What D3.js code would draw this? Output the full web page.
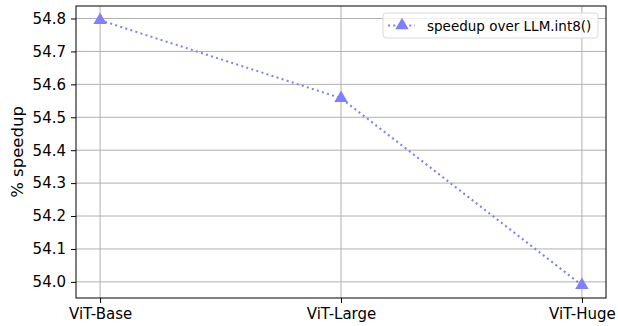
<!DOCTYPE html>
<html>
<head>
<meta charset="utf-8">
<script src="https://cdn.jsdelivr.net/npm/d3@7"></script>
<style>
  body { margin: 0; background: #fff; }
  text { font-family: "DejaVu Sans", sans-serif; }
</style>
</head>
<body>
<script>
var models = ["ViT-Base", "ViT-Large", "ViT-Huge"];
var speedup = [54.795, 54.558, 53.99];
var yTicks = [54.0, 54.1, 54.2, 54.3, 54.4, 54.5, 54.6, 54.7, 54.8];

var w = 618, h = 326;
var padL = 76, padR = 606, padT = 6, padB = 298;
var col = "#7f7fff";

var svg = d3.select("body").append("svg")
  .attr("width", w).attr("height", h);

var x = d3.scaleLinear().domain([-0.1, 2.1]).range([padL, padR]);
var y = d3.scaleLinear().domain([53.951, 54.838]).range([padB, padT]);

// grid
svg.append("g").selectAll("line").data(yTicks).enter().append("line")
  .attr("x1", padL).attr("x2", padR)
  .attr("y1", d => y(d)).attr("y2", d => y(d))
  .attr("stroke", "#b0b0b0").attr("stroke-width", 1);
svg.append("g").selectAll("line").data(models).enter().append("line")
  .attr("y1", padT).attr("y2", padB)
  .attr("x1", (d, i) => x(i)).attr("x2", (d, i) => x(i))
  .attr("stroke", "#b0b0b0").attr("stroke-width", 1);

// axes
var xAxis = d3.axisBottom(x).tickValues([0, 1, 2])
  .tickFormat(i => models[i]).tickSize(5).tickPadding(5);
var yAxis = d3.axisLeft(y).tickValues(yTicks)
  .tickFormat(d3.format(".1f")).tickSize(5).tickPadding(5);

var gx = svg.append("g").attr("transform", "translate(0," + padB + ")").call(xAxis);
var gy = svg.append("g").attr("transform", "translate(" + padL + ",0)").call(yAxis);
[gx, gy].forEach(g => {
  g.select(".domain").remove();
  g.selectAll("text").attr("font-size", 15).attr("fill", "#000")
    .style("font-family", "DejaVu Sans");
  g.selectAll("line").attr("stroke", "#000").attr("stroke-width", 1);
});

svg.append("rect")
  .attr("x", padL).attr("y", padT)
  .attr("width", padR - padL).attr("height", padB - padT)
  .attr("fill", "none").attr("stroke", "#000").attr("stroke-width", 1);

// y label
svg.append("text")
  .attr("transform", "translate(23," + ((padT + padB) / 2) + ") rotate(-90)")
  .attr("text-anchor", "middle")
  .attr("font-size", 16.5)
  .text("% speedup");

// line
var line = d3.line().x((d, i) => x(i)).y(d => y(d));
svg.append("path").datum(speedup)
  .attr("d", line)
  .attr("fill", "none").attr("stroke", col)
  .attr("stroke-width", 2).attr("stroke-dasharray", "2,3.3");

var tri = d3.symbol().type(d3.symbolTriangle).size(78);
svg.append("g").selectAll("path").data(speedup).enter().append("path")
  .attr("d", tri)
  .attr("transform", (d, i) => "translate(" + x(i) + "," + y(d) + ")")
  .attr("fill", col);

// legend
var lg = svg.append("g").attr("transform", "translate(383,13)");
lg.append("rect").attr("width", 215).attr("height", 25)
  .attr("rx", 3).attr("fill", "#fff").attr("fill-opacity", 0.8)
  .attr("stroke", "#d9d9d9").attr("stroke-width", 1);
lg.append("line").attr("x1", 5).attr("x2", 32).attr("y1", 12.5).attr("y2", 12.5)
  .attr("stroke", col).attr("stroke-width", 2).attr("stroke-dasharray", "2,3.3");
lg.append("path").attr("d", tri).attr("transform", "translate(19,12.5)").attr("fill", col);
lg.append("text").attr("x", 44).attr("y", 17.5).attr("font-size", 13.5)
  .text("speedup over LLM.int8()");
</script>
</body>
</html>
